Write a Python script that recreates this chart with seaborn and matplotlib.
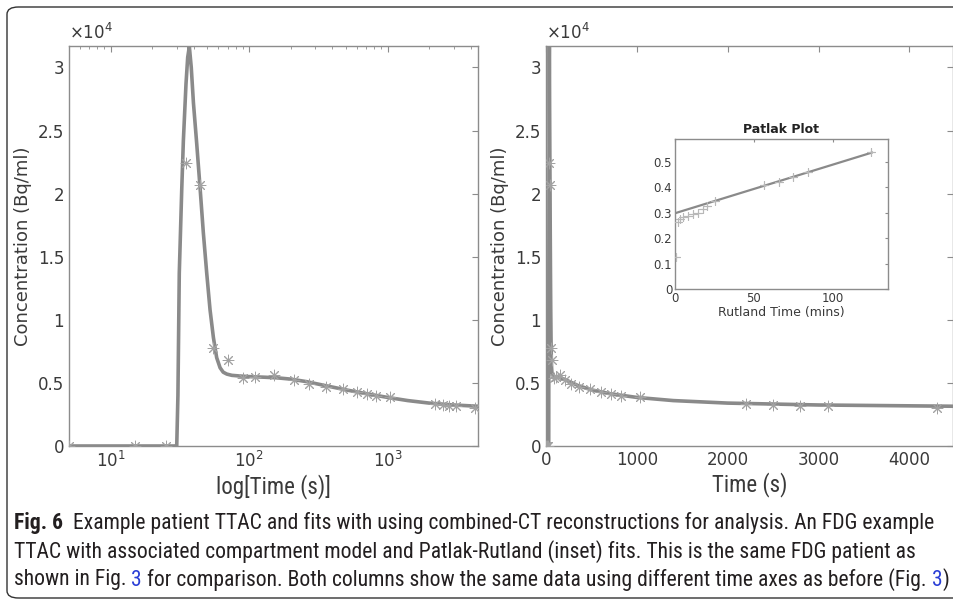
import numpy as np
import pandas as pd
import matplotlib
matplotlib.use("Agg")
import matplotlib.pyplot as plt
import matplotlib.font_manager as fm
import seaborn as sns
from matplotlib.ticker import FuncFormatter, LogLocator, FixedLocator
from matplotlib.patches import FancyBboxPatch

# measured TTAC frames (time in s, concentration in Bq/ml)
frame_t = [5, 15, 25, 35, 44, 55, 70, 90, 110, 150, 210, 270, 360, 480, 600,
           710, 830, 1040, 2200, 2500, 2800, 3100, 4300]
frame_c = [0, 0, 0, 22400, 20700, 7750, 6800, 5400, 5450, 5600, 5250, 4950,
           4700, 4500, 4250, 4100, 3950, 3850, 3300, 3250, 3200, 3180, 3050]

# compartment model fit
fit_t = [5, 20, 29.5, 30.0, 30.6, 31.3, 32.6, 33.5, 35.0, 36.0, 37.0, 38.2,
         39.6, 41.8, 44.2, 46.7, 49.4, 52.2, 55.2, 58.3, 61.7, 65, 69, 75, 85,
         100, 130, 160, 200, 260, 350, 500, 700, 1000, 1400, 2000, 3000, 4500]
fit_c = [0, 0, 0, 0, 4000, 13700, 20300, 24200, 28700, 30800, 31650, 30000,
         27200, 24000, 20500, 16900, 13700, 10800, 8600, 7000, 6200, 5850, 5700,
         5600, 5550, 5500, 5450, 5400, 5300, 5100, 4800, 4450, 4150, 3850, 3600,
         3400, 3250, 3150]

# Patlak-Rutland inset
patlak_t = [0.4, 2.1, 3.0, 5.3, 8.4, 11.6, 14.8, 17.9, 20.4, 25.3, 56.3, 66.0,
            74.9, 84.4, 124.5]
patlak_y = [0.124, 0.265, 0.275, 0.285, 0.289, 0.295, 0.300, 0.315, 0.328,
            0.348, 0.410, 0.422, 0.442, 0.462, 0.537]
patlak_fit_t = [0, 125]
patlak_fit_y = [0.298, 0.537]

frames = pd.DataFrame({"t": frame_t, "c": frame_c})
fit = pd.DataFrame({"t": fit_t, "c": fit_c})
patlak = pd.DataFrame({"t": patlak_t, "y": patlak_y})

sns.set_style("white")
plt.rcParams["font.family"] = ["DejaVu Sans"]

# a narrow face for the caption if one is around
installed = {f.name for f in fm.fontManager.ttflist}
narrow = [n for n in ["Roboto Condensed", "Open Sans Condensed",
                      "DejaVu Sans Condensed", "Liberation Sans Narrow",
                      "Open Sans", "Noto Sans"] if n in installed]
cond = narrow[:1] + ["DejaVu Sans"]

LINE = "#8a8a8a"
MARK = "#a2a2a2"
SPINE = "#8c8c8c"
TXT = "#3a3a3a"
ASTER = (8, 2, 0)

fig = plt.figure(figsize=(9.54, 6.02), dpi=100)
ax1 = fig.add_axes([69 / 954, 1 - 446 / 602, 409 / 954, 400 / 602])
ax2 = fig.add_axes([546 / 954, 1 - 446 / 602, 407 / 954, 400 / 602])
axin = fig.add_axes([675 / 954, 1 - 289 / 602, 213 / 954, 150 / 602])


def style_axes(ax, size=12, ticklen=4):
    for sp in ax.spines.values():
        sp.set_color(SPINE)
        sp.set_linewidth(1.0)
    ax.tick_params(which="both", direction="in", top=True, right=True,
                   colors=SPINE, labelcolor=TXT, labelsize=size)
    ax.tick_params(which="major", length=ticklen)
    ax.tick_params(which="minor", length=ticklen * 0.6)


conc_fmt = FuncFormatter(lambda v, p: f"{v / 1e4:g}")

for ax in (ax1, ax2):
    sns.lineplot(data=fit, x="t", y="c", ax=ax, color=LINE, linewidth=2.6,
                 sort=False, estimator=None)
    sns.scatterplot(data=frames, x="t", y="c", ax=ax, marker=ASTER, s=60,
                    color=MARK, edgecolor=MARK, linewidth=0.7, zorder=3)
    ax.set_ylim(0, 31700)
    ax.yaxis.set_major_locator(FixedLocator(np.arange(0, 30001, 5000)))
    ax.yaxis.set_major_formatter(conc_fmt)
    style_axes(ax)
    ax.set_ylabel("Concentration (Bq/ml)", fontsize=13, color=TXT, labelpad=4)
    ax.text(0.0, 1.008, r"$\times10^4$", transform=ax.transAxes, fontsize=12,
            color=TXT, ha="left", va="bottom")

ax1.set_xscale("log")
ax1.set_xlim(5, 4500)
ax1.xaxis.set_major_locator(LogLocator(base=10, numticks=10))
ax1.set_xlabel("log[Time (s)]", fontsize=16.5, color=TXT, family=cond,
               labelpad=2)

ax2.set_xlim(0, 4480)
ax2.xaxis.set_major_locator(FixedLocator([0, 1000, 2000, 3000, 4000]))
ax2.set_xlabel("Time (s)", fontsize=16.5, color=TXT, family=cond, labelpad=2)

# inset
sns.lineplot(x=patlak_fit_t, y=patlak_fit_y, ax=axin, color=LINE, linewidth=1.6)
sns.scatterplot(data=patlak, x="t", y="y", ax=axin, marker=(4, 2, 0), s=35,
                color="#b8b8b8", edgecolor="#b8b8b8", linewidth=0.8, zorder=3)
axin.set_xlim(0, 135)
axin.set_ylim(0, 0.59)
axin.xaxis.set_major_locator(FixedLocator([0, 50, 100]))
axin.yaxis.set_major_locator(FixedLocator([0, 0.1, 0.2, 0.3, 0.4, 0.5]))
axin.yaxis.set_major_formatter(FuncFormatter(lambda v, p: f"{v:g}"))
style_axes(axin, size=8.5, ticklen=2.5)
axin.tick_params(pad=2)
axin.set_ylabel("")
axin.set_xlabel("Rutland Time (mins)", fontsize=9, color=TXT, labelpad=1)
axin.set_title("Patlak Plot", fontsize=9, fontweight="bold", color="#222222",
               pad=4)

# frame around the figure block
frame = FancyBboxPatch((7 / 954, 4 / 602), 1.05, 1 - 11 / 602,
                       boxstyle="round,pad=0,rounding_size=0.012",
                       transform=fig.transFigure, fill=False,
                       edgecolor="#333333", linewidth=1.0, clip_on=False)
fig.patches.append(frame)

# caption, written run by run so bold and blue parts can sit inline
renderer = fig.canvas.get_renderer()
INK = "#231f20"
BLUE = "#2b3fd6"
lines = [
    [("Fig. 6", "bold", INK),
     ("  Example patient TTAC and fits with using combined-CT reconstructions "
      "for analysis. An FDG example", "normal", INK)],
    [("TTAC with associated compartment model and Patlak-Rutland (inset) fits. "
      "This is the same FDG patient as", "normal", INK)],
    [("shown in Fig. ", "normal", INK), ("3", "normal", BLUE),
     (" for comparison. Both columns show the same data using different time "
      "axes as before (Fig. ", "normal", INK),
     ("3", "normal", BLUE), (")", "normal", INK)],
]


def run_width(runs, size):
    w = 0
    for s, wt, c in runs:
        t = fig.text(0, 0, s, fontsize=size, fontweight=wt, family=cond)
        w += t.get_window_extent(renderer=renderer).width
        t.remove()
    return w


# pick the caption size so the widest line (the last) spans as in the print
cap_size = 13.0 * (934 / run_width(lines[2], 13.0))

ys = [523, 552, 580]
for runs, yp in zip(lines, ys):
    x = 14 / 954
    for s, w, c in runs:
        t = fig.text(x, 1 - yp / 602, s, fontsize=cap_size, fontweight=w,
                     color=c, family=cond, va="center", ha="left")
        bb = t.get_window_extent(renderer=renderer)
        x += bb.width / fig.bbox.width

fig.savefig("out.png", dpi=100)
